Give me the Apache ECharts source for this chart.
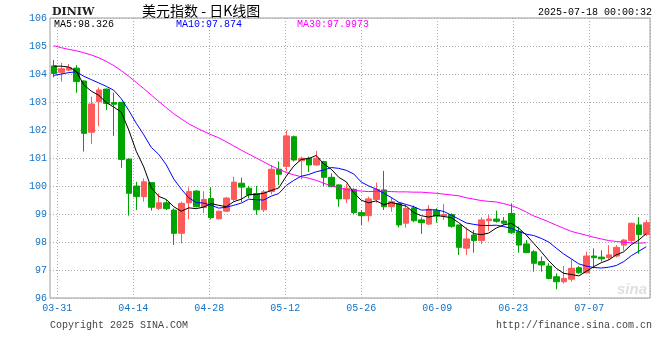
<!DOCTYPE html>
<html><head><meta charset="utf-8">
<script src="https://cdn.jsdelivr.net/npm/echarts@6/dist/echarts.min.js"></script>
<style>html,body{margin:0;padding:0;background:#fff}#c{width:660px;height:360px}</style>
</head><body><div id="c"></div>
<script>
const dates = ["03-31",
"04-01","04-02","04-03","04-04","04-07","04-08","04-09","04-10","04-11",
"04-14","04-15","04-16","04-17","04-18","04-21","04-22","04-23","04-24","04-25",
"04-28","04-29","04-30","05-01","05-02","05-05","05-06","05-07","05-08","05-09",
"05-12","05-13","05-14","05-15","05-16","05-19","05-20","05-21","05-22","05-23",
"05-26","05-27","05-28","05-29","05-30","06-02","06-03","06-04","06-05","06-06",
"06-09","06-10","06-11","06-12","06-13","06-16","06-17","06-18","06-19","06-20",
"06-23","06-24","06-25","06-26","06-27","06-30","07-01","07-02","07-03","07-04",
"07-07","07-08","07-09","07-10","07-11","07-14","07-15","07-16","07-17","07-18"];

const opens = [104.29,104.06,104.14,104.21,103.75,101.92,103.01,103.46,102.98,102.99,
100.96,100.00,99.62,100.12,99.20,99.40,99.14,98.31,99.40,99.82,
99.23,99.55,98.83,99.10,99.52,100.10,99.92,99.73,99.15,99.80,
100.60,100.70,101.76,100.90,100.99,100.75,100.87,100.31,100.04,99.54,
99.88,99.05,98.94,99.52,99.86,99.26,99.38,98.67,99.22,98.79,
98.64,99.12,98.93,98.98,98.61,97.78,98.25,98.05,98.76,98.82,
98.75,99.02,98.37,97.93,97.65,97.30,97.14,96.76,96.58,96.67,
97.08,96.90,97.50,97.46,97.44,97.50,97.89,98.05,98.61,98.27];

const closes = [104.02,104.19,104.23,103.73,101.88,102.93,103.43,102.95,102.92,100.95,
99.74,99.62,100.15,99.24,99.40,99.19,98.31,99.38,99.80,99.26,
99.52,98.87,99.10,99.57,100.14,99.96,99.68,99.15,99.79,100.60,
100.42,101.79,100.93,100.99,100.75,100.99,100.31,99.98,99.54,99.92,
99.05,98.94,99.54,99.88,99.26,99.44,98.61,99.20,98.76,98.69,
99.17,98.93,98.98,98.56,97.81,98.11,98.05,98.79,98.82,98.74,
98.67,98.33,97.89,97.62,97.24,97.18,96.70,96.58,96.70,97.06,
96.90,97.50,97.44,97.40,97.54,97.81,98.07,98.67,98.27,98.69];

const lows = [103.88,103.73,104.10,103.33,101.23,101.50,102.14,102.71,101.79,100.65,
98.94,99.14,99.44,99.12,99.14,99.14,97.89,97.95,98.81,99.24,
99.04,98.81,98.80,99.07,99.45,99.43,99.57,98.97,99.07,99.70,
100.04,100.52,100.88,100.24,100.50,100.73,100.00,99.95,99.26,99.39,
99.00,98.61,98.73,99.40,99.14,99.08,98.52,98.51,98.71,98.29,
98.60,98.69,98.79,98.51,97.54,97.54,97.62,97.93,98.40,98.69,
98.60,98.29,97.62,97.60,96.94,96.94,96.67,96.31,96.52,96.58,
96.86,96.88,97.06,97.30,97.36,97.45,97.69,97.95,97.58,98.21];

const highs = [104.50,104.40,104.36,104.32,103.78,103.19,103.52,103.48,103.33,103.00,
100.98,100.15,100.27,100.14,99.74,99.50,99.20,99.44,99.95,99.85,
99.81,99.96,99.12,99.60,100.33,100.30,100.00,100.00,99.86,100.75,
100.88,101.98,101.80,101.05,101.05,101.25,100.90,100.45,100.06,100.08,
99.92,99.14,99.62,100.12,100.54,99.60,99.40,99.32,99.30,98.88,
99.32,99.20,99.36,99.02,98.61,98.52,98.43,98.88,98.96,99.12,
98.89,99.38,98.55,98.07,97.71,97.48,97.24,96.88,97.14,97.38,
97.14,97.65,97.77,97.70,97.89,97.89,98.10,98.69,98.89,98.79];

const ma5 = [104.28,104.28,104.25,104.10,103.61,103.39,103.24,102.98,102.82,102.64,
102.00,101.24,100.68,99.94,99.63,99.52,99.26,99.10,99.22,99.19,
99.25,99.37,99.31,99.26,99.44,99.53,99.69,99.70,99.74,99.84,
99.93,100.35,100.71,100.95,100.98,101.09,100.79,100.60,100.31,100.15,
99.76,99.49,99.40,99.47,99.33,99.41,99.35,99.28,99.05,98.94,
98.89,98.95,98.91,98.87,98.69,98.48,98.30,98.26,98.32,98.50,
98.61,98.67,98.49,98.25,97.95,97.65,97.33,97.06,96.88,96.84,
96.79,96.95,97.12,97.26,97.36,97.54,97.65,97.90,98.07,98.30];

const ma10 = [103.95,104.00,104.05,104.08,103.92,103.80,103.68,103.56,103.42,103.12,
102.70,102.24,101.83,101.38,101.13,100.76,100.25,99.89,99.58,99.41,
99.39,99.31,99.21,99.24,99.31,99.39,99.53,99.51,99.50,99.64,
99.73,100.02,100.20,100.35,100.41,100.51,100.57,100.66,100.63,100.56,
100.43,100.14,100.00,99.89,99.74,99.59,99.42,99.34,99.26,99.14,
99.15,99.15,99.09,98.96,98.82,98.68,98.63,98.59,98.59,98.60,
98.55,98.49,98.38,98.28,98.23,98.13,98.00,97.78,97.57,97.40,
97.22,97.14,97.09,97.07,97.10,97.16,97.30,97.51,97.67,97.83];

const ma30 = [105.01,104.94,104.88,104.83,104.76,104.68,104.58,104.45,104.30,104.12,
103.92,103.70,103.48,103.25,103.02,102.80,102.58,102.40,102.22,102.08,
101.95,101.83,101.72,101.58,101.43,101.28,101.14,101.00,100.86,100.72,
100.60,100.48,100.40,100.33,100.28,100.20,100.10,100.00,99.94,99.87,
99.84,99.82,99.80,99.81,99.82,99.80,99.79,99.79,99.78,99.78,
99.76,99.74,99.71,99.68,99.65,99.58,99.53,99.48,99.45,99.43,
99.37,99.30,99.20,99.07,98.93,98.83,98.72,98.60,98.49,98.38,
98.31,98.24,98.17,98.11,98.05,98.02,97.99,97.97,97.96,97.97];

const xTickLabels = ["03-31","04-14","04-28","05-12","05-26","06-09","06-23","07-07"];

const titleText = "美元指数 - 日K线图";
const symbolText = "DINIW";
const timeText = "2025-07-18 00:00:32";
const ma5Text = "MA5:98.326";
const ma10Text = "MA10:97.874";
const ma30Text = "MA30:97.9973";
const copyText = "Copyright 2025 SINA.COM";
const urlText = "http://finance.sina.com.cn";

const mono = "'Liberation Mono','DejaVu Sans Mono',monospace";
const axisBlue = '#1273C4';
const upColor = '#FF5A5A';
const downColor = '#00A400';
const gridDot = '#ababab';

const candleData = dates.map((d, i) => [opens[i], closes[i], lows[i], highs[i]]);

const chart = echarts.init(document.getElementById('c'), null, {renderer: 'canvas'});
chart.setOption({
  animation: false,
  backgroundColor: '#ffffff',
  grid: [
    {left: 50, right: 10, top: 18, bottom: 62, show: true, borderColor: '#9c9c9c', borderWidth: 1, backgroundColor: 'transparent'},
    {left: 57.3, right: 10, top: 18, bottom: 62, show: false}
  ],
  xAxis: [
    {type: 'category', gridIndex: 0, data: dates, boundaryGap: true,
     axisLine: {show: false}, axisTick: {show: false}, axisLabel: {show: false}, splitLine: {show: false}},
    {type: 'value', gridIndex: 1, min: 0, max: 7.799, interval: 1, position: 'bottom',
     axisLine: {show: false}, axisTick: {show: false},
     splitLine: {show: true, lineStyle: {color: gridDot, width: 1, type: [1, 2]}},
     axisLabel: {show: true, color: axisBlue, fontFamily: mono, fontSize: 10, margin: 5,
       showMaxLabel: false,
       formatter: function (v) { const k = Math.round(v); return (Math.abs(v - k) < 1e-6 && xTickLabels[k]) ? xTickLabels[k] : ''; }}}
  ],
  yAxis: [
    {type: 'value', gridIndex: 0, min: 96, max: 106, interval: 1,
     axisLine: {show: false}, axisTick: {show: false},
     splitLine: {show: true, lineStyle: {color: gridDot, width: 1, type: [1, 2]}},
     axisLabel: {color: axisBlue, fontFamily: mono, fontSize: 10, margin: 3}},
    {type: 'value', gridIndex: 1, min: 96, max: 106, interval: 1, show: false}
  ],
  series: [
    {type: 'candlestick', xAxisIndex: 0, yAxisIndex: 0, data: candleData, barWidth: 6,
     itemStyle: {color: upColor, color0: downColor, borderColor: upColor, borderColor0: downColor, borderWidth: 1}},
    {type: 'line', xAxisIndex: 0, yAxisIndex: 0, data: ma30, symbol: 'none', lineStyle: {color: '#FF00FF', width: 1}, z: 3},
    {type: 'line', xAxisIndex: 0, yAxisIndex: 0, data: ma10, symbol: 'none', lineStyle: {color: '#0000FF', width: 1}, z: 4},
    {type: 'line', xAxisIndex: 0, yAxisIndex: 0, data: ma5, symbol: 'none', lineStyle: {color: '#000000', width: 1}, z: 5}
  ],
  graphic: [
    {type: 'text', x: 52, y: 12, style: {text: symbolText, font: "bold 11px 'DejaVu Serif',serif", fill: '#222', verticalAlign: 'middle'}},
    {type: 'text', x: 142, y: 11, style: {text: titleText, font: "14px 'Noto Sans CJK SC'", fill: '#000', verticalAlign: 'middle'}},
    {type: 'text', x: 652, y: 12, style: {text: timeText, font: "10px " + mono, fill: '#000', align: 'right', verticalAlign: 'middle'}},
    {type: 'text', x: 54, y: 24, style: {text: ma5Text, font: "10px " + mono, fill: '#000', verticalAlign: 'middle'}},
    {type: 'text', x: 176, y: 24, style: {text: ma10Text, font: "10px " + mono, fill: '#0000FF', verticalAlign: 'middle'}},
    {type: 'text', x: 297, y: 24, style: {text: ma30Text, font: "10px " + mono, fill: '#FF00FF', verticalAlign: 'middle'}},
    {type: 'text', x: 50, y: 325, style: {text: copyText, font: "10px " + mono, fill: '#444', verticalAlign: 'middle'}},
    {type: 'text', x: 652, y: 325, style: {text: urlText, font: "10px " + mono, fill: '#444', align: 'right', verticalAlign: 'middle'}},
    {type: 'text', x: 647, y: 290, style: {text: 'sina', font: "italic bold 15px 'Liberation Sans',sans-serif", fill: 'rgba(150,150,150,0.3)', align: 'right', verticalAlign: 'middle'}}
  ]
});
</script>
</body></html>
